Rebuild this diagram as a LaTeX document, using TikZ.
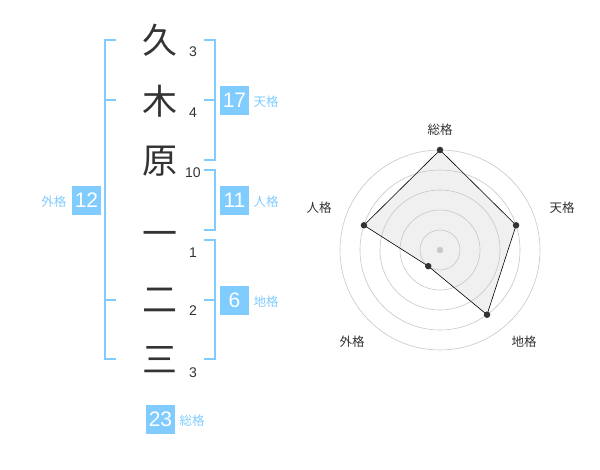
\documentclass[tikz,border=0pt]{standalone}
\usepackage{fontspec}
\setmainfont{Liberation Sans}
\newfontfamily\jfont{Noto Sans CJK JP}
\definecolor{kaku}{HTML}{80CCFF}
\definecolor{moji}{HTML}{333333}

\begin{document}
\begin{tikzpicture}[x=1pt,y=-1pt,
		kanji/.style={font=\jfont\fontsize{35}{35}\selectfont, text=moji, inner sep=0pt},
		kakusu/.style={font=\fontsize{14}{14}\selectfont, text=moji, inner sep=0pt},
		badge/.style={fill=kaku, text=white, minimum size=29pt, inner sep=0pt, font=\fontsize{21}{21}\selectfont},
		kakuname/.style={font=\jfont\fontsize{12.5}{12.5}\selectfont, text=kaku, inner sep=0pt},
		bracket/.style={draw=kaku, line width=1.6pt},
		ring/.style={draw=black!22, line width=0.6pt},
		dot/.style={circle, fill=moji, inner sep=0pt, minimum size=6.5pt},
		axislabel/.style={font=\jfont\fontsize{12.5}{12.5}\selectfont, text=moji, inner sep=0pt}]
		\useasboundingbox (0,0) rectangle (600,470);
		%Moji
		\node [kanji] (k1) at (160,40) {久};
		\node [kanji] (k2) at (160,101) {木};
		\node [kanji] (k3) at (160,161) {原};
		\node [kanji] (k4) at (160,239) {一};
		\node [kanji] (k5) at (160,300) {二};
		\node [kanji] (k6) at (160,360) {三};
		%Kakusu
		\node [kakusu] (n1) at (193,52) {3};
		\node [kakusu] (n2) at (193,113) {4};
		\node [kakusu] (n3) at (193,173) {10};
		\node [kakusu] (n4) at (193,253) {1};
		\node [kakusu] (n5) at (193,311) {2};
		\node [kakusu] (n6) at (193,373) {3};
		%Kakko
		\draw [bracket] (116,40) -- (105,40) -- (105,359) -- (116,359);
		\draw [bracket] (105,100) -- (116,100);
		\draw [bracket] (105,300) -- (116,300);
		\draw [bracket] (204,40) -- (215,40) -- (215,160) -- (204,160);
		\draw [bracket] (204,100) -- (215,100);
		\draw [bracket] (204,170) -- (215,170) -- (215,230) -- (204,230);
		\draw [bracket] (204,240) -- (215,240) -- (215,359) -- (204,359);
		\draw [bracket] (204,300) -- (215,300);
		%Kaku
		\node [badge] (ten) at (234.5,100.5) {17};
		\node [kakuname] (tenname) at (266,102) {天格};
		\node [badge] (jin) at (234.5,200.5) {11};
		\node [kakuname] (jinname) at (266,202) {人格};
		\node [badge] (chi) at (234.5,300.5) {6};
		\node [kakuname] (chiname) at (266,302) {地格};
		\node [badge] (gai) at (86.5,200.5) {12};
		\node [kakuname] (gainame) at (54,202) {外格};
		\node [badge] (sou) at (160.5,419) {23};
		\node [kakuname] (souname) at (192,421) {総格};
		%Radar
		\begin{scope}[shift={(440,250)}]
			\coordinate (psou) at (-90:100);
			\coordinate (pten) at (-18:80);
			\coordinate (pchi) at (54:80);
			\coordinate (pgai) at (126:20);
			\coordinate (pjin) at (198:80);
			\fill [black!6] (psou) -- (pten) -- (pchi) -- (pgai) -- (pjin) -- cycle;
			\draw [ring] (0,0) circle (20);
			\draw [ring] (0,0) circle (40);
			\draw [ring] (0,0) circle (60);
			\draw [ring] (0,0) circle (80);
			\draw [ring] (0,0) circle (100);
			\fill [black!22] (0,0) circle (3.2);
			\draw [black, line width=0.6pt] (psou) -- (pten) -- (pchi) -- (pgai) -- (pjin) -- cycle;
			\node [dot] (dsou) at (psou) {};
			\node [dot] (dten) at (pten) {};
			\node [dot] (dchi) at (pchi) {};
			\node [dot] (dgai) at (pgai) {};
			\node [dot] (djin) at (pjin) {};
			%Jiku
			\node [axislabel] (asou) at (0,-120) {総格};
			\node [axislabel] (aten) at (122,-42) {天格};
			\node [axislabel] (ajin) at (-121,-42) {人格};
			\node [axislabel] (achi) at (84,92) {地格};
			\node [axislabel] (agai) at (-88,92) {外格};
		\end{scope}
	\end{tikzpicture}
\end{document}
